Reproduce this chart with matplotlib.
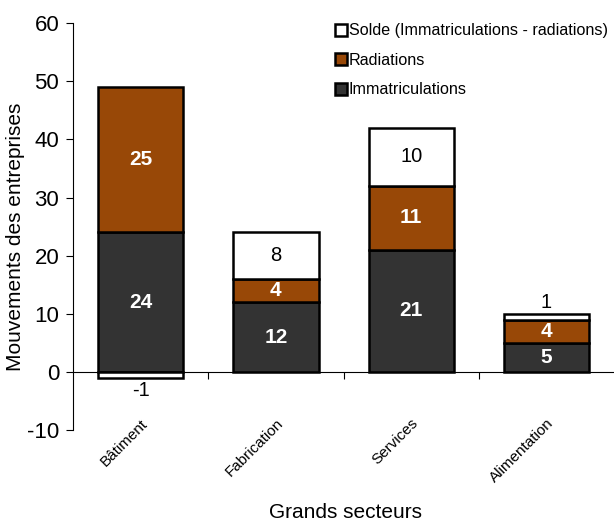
import matplotlib.pyplot as plt
import numpy as np
from matplotlib.lines import Line2D

plt.rcParams['font.family'] = ['Liberation Sans', 'DejaVu Sans']
plt.rcParams['axes.unicode_minus'] = False

secteurs = ['Bâtiment', 'Fabrication', 'Services', 'Alimentation']
immat = np.array([24, 12, 21, 5])
radiations = np.array([25, 4, 11, 4])
solde = np.array([-1, 8, 10, 1])

c_imm = '#333333'
c_rad = '#984807'

fig = plt.figure(figsize=(6.14, 5.24), dpi=100)
ax = fig.add_axes([0.119, 0.179, 0.881, 0.777])

x = np.arange(len(secteurs))
w = 0.63
ax.bar(x, immat, w, color=c_imm, edgecolor='black', linewidth=1.8, zorder=3)
ax.bar(x, radiations, w, bottom=immat, color=c_rad, edgecolor='black', linewidth=1.8, zorder=3)
# le solde negatif part de zero, sinon il est empile au-dessus
bas_solde = np.where(solde < 0, 0, immat + radiations)
ax.bar(x, solde, w, bottom=bas_solde, color='white', edgecolor='black', linewidth=1.8, zorder=3)

for i in range(len(secteurs)):
    ax.text(x[i], immat[i] / 2, str(immat[i]), ha='center', va='center',
            color='white', fontweight='bold', fontsize=15, zorder=4)
    ax.text(x[i], immat[i] + radiations[i] / 2, str(radiations[i]), ha='center', va='center',
            color='white', fontweight='bold', fontsize=15, zorder=4)
    if solde[i] < 0:
        ax.text(x[i], solde[i] - 0.5, str(solde[i]), ha='center', va='top', fontsize=14.5)
    elif solde[i] < 3:
        ax.text(x[i], immat[i] + radiations[i] + solde[i] + 0.3, str(solde[i]),
                ha='center', va='bottom', fontsize=14.5)
    else:
        ax.text(x[i], bas_solde[i] + solde[i] / 2, str(solde[i]), ha='center', va='center', fontsize=14.5)

ax.set_xlim(-0.5, 3.5)
ax.set_ylim(-10, 60)
ax.set_yticks(range(-10, 61, 10))
ax.tick_params(axis='y', labelsize=16, length=5, width=0.8, direction='out', pad=5)

ax.spines['top'].set_visible(False)
ax.spines['right'].set_visible(False)
ax.spines['bottom'].set_position(('data', 0))
ax.spines['left'].set_linewidth(0.8)
ax.spines['bottom'].set_linewidth(0.8)
ax.set_xticks([0.5, 1.5, 2.5])
ax.set_xticklabels([])
ax.tick_params(axis='x', length=5, width=0.8, direction='out')

for i, s in enumerate(secteurs):
    ax.text(x[i] + 0.0, -7.6, s, rotation=45, ha='right', va='top',
            rotation_mode='anchor', fontsize=11)

ax.set_ylabel('Mouvements des entreprises', fontsize=15)
ax.yaxis.set_label_coords(-0.088, 0.474)
fig.text(0.563, 0.022, 'Grands secteurs', ha='center', va='center', fontsize=15)

handles = [
    Line2D([], [], marker='s', ls='', markerfacecolor='white', markeredgecolor='black', markersize=8, markeredgewidth=1.8),
    Line2D([], [], marker='s', ls='', markerfacecolor=c_rad, markeredgecolor='black', markersize=8, markeredgewidth=1.8),
    Line2D([], [], marker='s', ls='', markerfacecolor=c_imm, markeredgecolor='black', markersize=8, markeredgewidth=1.8),
]
labels = ['Solde (Immatriculations - radiations)', 'Radiations', 'Immatriculations']
ax.legend(handles, labels, loc='upper right', bbox_to_anchor=(1.015, 1.035), frameon=False,
          fontsize=11.6, handletextpad=0.0, labelspacing=0.9, handlelength=1.0)

fig.savefig('out.png', dpi=100)
